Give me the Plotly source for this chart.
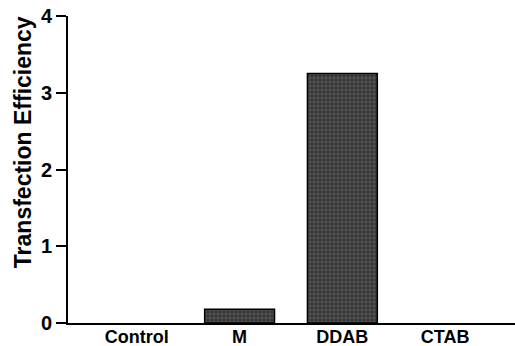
import plotly.graph_objects as go

categories = ["Control", "M", "DDAB", "CTAB"]
values = [0.0, 0.18, 3.25, 0.0]
y_ticks = [0, 1, 2, 3, 4]

FONT = "Liberation Sans, Arial, sans-serif"

fig = go.Figure()
fig.add_trace(go.Bar(
    x=categories,
    y=values,
    width=0.68,
    marker=dict(
        color="#3c3c3c",
        line=dict(color="#000000", width=[0 if v == 0 else 1.5 for v in values]),
        pattern=dict(shape="+", fgcolor="#a8a8a8", bgcolor="#353535", size=4, solidity=0.25),
    ),
    showlegend=False,
    hoverinfo="skip",
))

fig.update_layout(
    width=515,
    height=346,
    margin=dict(l=68, r=0, t=16, b=23),
    plot_bgcolor="white",
    paper_bgcolor="white",
    font=dict(family=FONT, color="black"),
)

fig.update_xaxes(
    range=[-0.67, 3.68],
    automargin=False,
    showline=True, linecolor="black", linewidth=2,
    ticks="", showgrid=False, zeroline=False,
    ticklabelstandoff=-4,
    tickfont=dict(family=FONT, size=18, color="black", weight="bold"),
)
fig.update_yaxes(
    range=[0, 4],
    automargin=False,
    tickvals=y_ticks,
    ticktext=[str(v) for v in y_ticks],
    showline=True, linecolor="black", linewidth=2,
    ticks="outside", ticklen=10, tickwidth=2, tickcolor="black",
    showgrid=False, zeroline=False,
    tickfont=dict(family=FONT, size=20, color="black", weight="bold"),
)

fig.add_annotation(
    text="<b>Transfection Efficiency</b>",
    xref="paper", yref="paper",
    x=-0.1, y=0.59,
    textangle=-90,
    showarrow=False,
    font=dict(family=FONT, size=23, color="black"),
    xanchor="center", yanchor="middle",
)

fig.write_html(
    "out.html",
    config={"displayModeBar": False},
    post_script="document.body.style.margin='0px';document.body.style.overflow='hidden';",
)
